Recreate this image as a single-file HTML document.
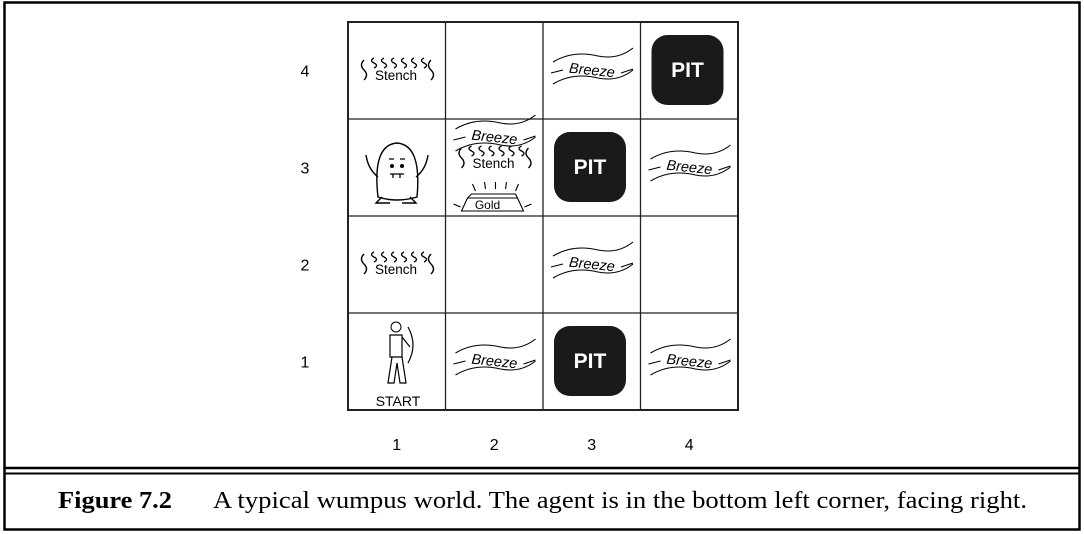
<!DOCTYPE html>
<html><head><meta charset="utf-8"><style>
html,body{margin:0;padding:0;background:#fff;width:1084px;height:534px;overflow:hidden}
svg{display:block}
.s{font-family:"Liberation Sans",sans-serif}
.c{font-family:"Liberation Serif",serif}
</style></head><body>
<svg id="fig" width="1084" height="534" viewBox="0 0 1084 534">
<rect x="4.5" y="2.5" width="1075" height="527" fill="none" stroke="#000" stroke-width="2.5"/>
<line x1="4" y1="468" x2="1080" y2="468" stroke="#000" stroke-width="2.5"/>
<line x1="4" y1="473.5" x2="1080" y2="473.5" stroke="#000" stroke-width="2"/>
<text class="c" x="58" y="508" font-size="24" font-weight="bold" textLength="114" lengthAdjust="spacingAndGlyphs">Figure 7.2</text>
<text class="c" x="213" y="508" font-size="24" textLength="814" lengthAdjust="spacingAndGlyphs">A typical wumpus world. The agent is in the bottom left corner, facing right.</text>
<g id="grid"></g>
</svg>
<script>
const cols=[1,2,3,4];
const rows=[1,2,3,4];
const stench=[[1,4],[2,3],[1,2]];
const breeze=[[3,4],[2,3],[4,3],[3,2],[2,1],[4,1]];
const pits=[[4,4],[3,3],[3,1]];
const NS='http://www.w3.org/2000/svg';
const g=document.getElementById('grid');
const X0=348,Y0=22,CW=97.5,CH=97;
const cx=c=>X0+(c-1)*CW, cy=r=>Y0+(4-r)*CH;
function mk(t,a,p){const e=document.createElementNS(NS,t);for(const k in a)e.setAttribute(k,a[k]);(p||g).appendChild(e);return e;}
const frame=mk('rect',{x:X0,y:Y0,width:CW*4,height:CH*4,fill:'none',stroke:'#222','stroke-width':2});


for(let i=1;i<4;i++){
 const v=mk('line',{x1:cx(i+1),y1:Y0,x2:cx(i+1),y2:Y0+CH*4,stroke:'#222','stroke-width':1.3});
 
 
 const h=mk('line',{x1:X0,y1:Y0+i*CH,x2:X0+CW*4,y2:Y0+i*CH,stroke:'#222','stroke-width':1.3});
 
 
}
cols.forEach(c=>{const t=mk('text',{x:cx(c)+CW/2,y:450,'font-size':16,'text-anchor':'middle',class:'s'});t.textContent=c;
 
 });
rows.forEach(r=>{const t=mk('text',{x:305,y:cy(r)+CH/2+6,'font-size':16,'text-anchor':'middle',class:'s'});t.textContent=r;
 
 });
function squig(x,y,h){return `M${x},${y} q-5,${h/4} 0,${h/2} q5,${h/4} 0,${h/2}`;}
function drawStench(c,r,oy){
 const x=cx(c),y=cy(r)+(oy||0);const gg=mk('g',{});
 
 
 mk('path',{d:squig(x+16,y+38,20),fill:'none',stroke:'#000','stroke-width':1.4},gg);
 mk('path',{d:squig(x+83,y+38,20),fill:'none',stroke:'#000','stroke-width':1.4},gg);
 for(let i=0;i<6;i++)mk('path',{d:squig(x+26+i*10,y+36,10),fill:'none',stroke:'#000','stroke-width':1.3},gg);
 const t=mk('text',{x:x+48,y:y+58,'font-size':13.5,'text-anchor':'middle',class:'s'},gg);t.textContent='Stench';
}
function drawBreeze(c,r,oy){
 const x=cx(c),y=cy(r)+(oy||0);const gg=mk('g',{});
 
 
 mk('path',{d:`M${x+10},${y+40} q20,-12 45,-6 q20,4 35,-8`,fill:'none',stroke:'#000','stroke-width':1.1},gg);
 mk('path',{d:`M${x+10},${y+62} q20,-12 45,-6 q20,4 35,-8`,fill:'none',stroke:'#000','stroke-width':1.1},gg);
 mk('path',{d:`M${x+8},${y+51} l12,-3 M${x+78},${y+51} l12,-4`,fill:'none',stroke:'#000','stroke-width':1.1},gg);
 const t=mk('text',{x:x+49,y:y+53,'font-size':14.5,'font-style':'italic','text-anchor':'middle',class:'s',transform:`rotate(6 ${x+49} ${y+48})`},gg);t.textContent='Breeze';
}
stench.forEach(([c,r])=>{ if(c===2&&r===3)drawStench(c,r,-9); else drawStench(c,r); });
breeze.forEach(([c,r])=>{ if(c===2&&r===3)drawBreeze(c,r,-30); else drawBreeze(c,r); });
pits.forEach(([c,r])=>{
 const x=cx(c),y=cy(r);
 const p=mk('rect',{x:x+11,y:y+13,width:72,height:70,rx:16,fill:'#1a1a1a'});
 
 
 const t=mk('text',{x:x+47,y:y+55,'font-size':21,'font-weight':'bold','text-anchor':'middle',fill:'#fff',class:'s'});t.textContent='PIT';
 
 
});
(function(){const x=cx(2),y=cy(3);const gg=mk('g',{});
 
 
 mk('path',{d:`M${x+16},${y+92} l6,-13 h50 l6,13 z M${x+22},${y+79} l4,-4 h44 l2,4`,fill:'#fff',stroke:'#000','stroke-width':1.1},gg);
 mk('path',{d:`M${x+30},${y+72} l-3,-7 M${x+40},${y+70} l-1,-7 M${x+50},${y+70} v-7 M${x+60},${y+70} l1,-7 M${x+70},${y+72} l3,-7 M${x+8},${y+85} l7,3 M${x+86},${y+85} l-7,3`,stroke:'#000','stroke-width':1.1},gg);
 const t=mk('text',{x:x+42,y:y+90,'font-size':12,'text-anchor':'middle',class:'s'},gg);t.textContent='Gold';})();
(function(){const x=cx(1),y=cy(3);const gg=mk('g',{});
 
 
 mk('path',{d:`M${x+30},${y+78} q-6,-52 19,-54 q25,2 20,54 q-20,6 -39,0 z`,fill:'#fff',stroke:'#000','stroke-width':1.4},gg);
 mk('path',{d:`M${x+30},${y+58} q-10,-8 -12,-22 M${x+68},${y+58} q10,-8 12,-22 M${x+34},${y+78} l-6,6 h14 M${x+62},${y+78} l6,6 h-14`,fill:'none',stroke:'#000','stroke-width':1.4},gg);
 mk('circle',{cx:x+44,cy:y+47,r:2},gg);mk('circle',{cx:x+54,cy:y+47,r:2},gg);
 mk('path',{d:`M${x+41},${y+40} h5 M${x+52},${y+40} h5 M${x+42},${y+55} h14 M${x+45},${y+55} v4 M${x+52},${y+55} v4`,stroke:'#000','stroke-width':1.3},gg);})();
(function(){const x=cx(1),y=cy(1);const gg=mk('g',{});
 
 
 mk('circle',{cx:x+48,cy:y+14,r:5,fill:'#fff',stroke:'#000'},gg);
 mk('path',{d:`M${x+42},${y+22} h12 v22 h-12 z M${x+44},${y+44} l-4,26 h6 l3,-20 l3,20 h6 l-4,-26 M${x+54},${y+24} l8,10 M${x+60},${y+14} q10,18 0,36`,fill:'#fff',stroke:'#000','stroke-width':1.2},gg);
 const t=mk('text',{x:x+50,y:y+93,'font-size':14,'text-anchor':'middle',class:'s'},gg);t.textContent='START';})();
</script>
</body></html>
